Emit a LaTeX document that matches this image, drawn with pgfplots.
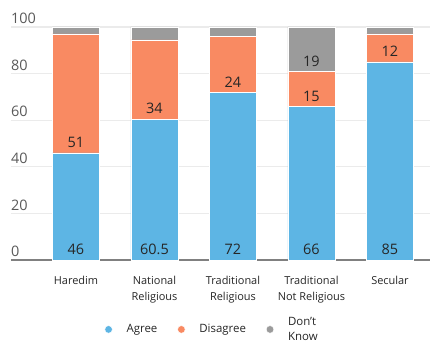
\documentclass[border=0pt]{standalone}
\usepackage{pgfplots}
\pgfplotsset{compat=1.18}
\usepackage{fontspec}
\setmainfont{Open Sans}
\definecolor{cagree}{HTML}{5DB5E4}
\definecolor{cdis}{HTML}{F98A62}
\definecolor{cdk}{HTML}{9B9B9B}
\definecolor{cgrid}{HTML}{EBEBEB}
\definecolor{ctick}{HTML}{595959}
\definecolor{ctext}{HTML}{262626}
\begin{document}
\begin{tikzpicture}
\useasboundingbox (0,0) rectangle (441bp,352bp);
\begin{axis}[
  at={(11bp,92bp)}, anchor=south west,
  scale only axis, width=419bp, height=233bp,
  ybar stacked, bar width=47bp,
  xmin=-0.828, xmax=4.51, ymin=0, ymax=100,
  xtick={0,1,2,3,4},
  xticklabels={Haredim,National\\Religious,Traditional\\Religious,Traditional\\Not Religious,Secular},
  xticklabel style={align=center, anchor=north, yshift=-13bp, font=\fontsize{11}{15.5}\selectfont, text=ctext},
  ytick={0,20,40,60,80,100},
  yticklabel style={anchor=south west, inner sep=0pt, xshift=0bp, yshift=3bp, font=\fontsize{14.5}{16}\selectfont, text=ctick},
  /pgf/number format/assume math mode=true,
  major tick length=0pt,
  ymajorgrids, grid style={cgrid, line width=1.2bp},
  axis lines*=left,
  y axis line style={draw=none},
  x axis line style={draw=black!50, line width=1.3bp, -},
  clip=false,
  visualization depends on={rawy \as \rawy},
  every node near coord/.append style={anchor=south, yshift={-\rawy*1.165bp+1.5bp}, font=\fontsize{14.5}{16}\selectfont, text=ctext},
  legend style={at={(0.48,-0.298)}, anchor=center, draw=none, fill=none,
    font=\fontsize{11.5}{15.5}\selectfont, text=ctext,
    nodes={align=left},
    /tikz/every odd column/.append style={column sep=12bp},
    /tikz/every even column/.append style={column sep=18bp}},
  legend columns=3,
  legend image code/.code={\fill[#1] (0bp,0bp) circle (3.8bp);},
]
\addplot[fill=cagree, draw=white, line width=0.4bp, nodes near coords={\pgfmathprintnumber{\rawy}}]
  coordinates {(0,46) (1,60.5) (2,72) (3,66) (4,85)};
\addplot[fill=cdis, draw=white, line width=0.4bp, nodes near coords={\pgfmathprintnumber{\rawy}}]
  coordinates {(0,51) (1,34) (2,24) (3,15) (4,12)};
\addplot[fill=cdk, draw=white, line width=0.4bp, nodes near coords={\ifdim\rawy pt>10pt\pgfmathprintnumber{\rawy}\fi}]
  coordinates {(0,3) (1,5.5) (2,4) (3,19) (4,3)};
\legend{Agree,Disagree,Don’t\\Know}
\end{axis}
\end{tikzpicture}
\end{document}
